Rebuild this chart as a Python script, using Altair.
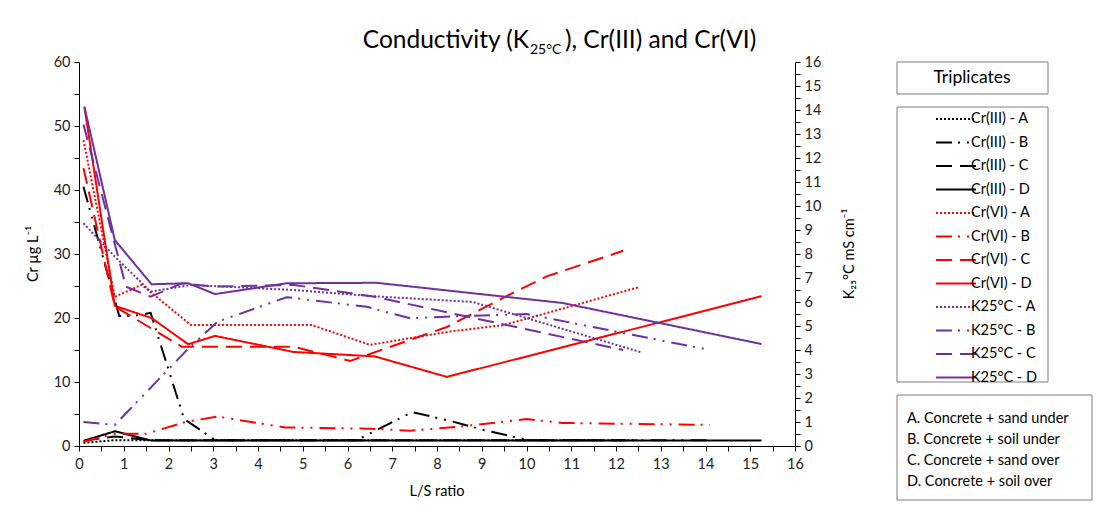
import altair as alt
import pandas as pd

FONT = "Lato"

# ---------------- data ----------------
series_names = ["Cr(III) - A", "Cr(III) - B", "Cr(III) - C", "Cr(III) - D",
                "Cr(VI) - A", "Cr(VI) - B", "Cr(VI) - C", "Cr(VI) - D",
                "K25°C - A", "K25°C - B", "K25°C - C", "K25°C - D"]

# Cr(III), µg/L (left axis)
cr3_a_x = [0.1, 0.8, 1.6, 2.5, 5.2, 6.5, 8.3, 9.5, 12.5]
cr3_a_y = [0.5, 0.9, 0.9, 0.9, 0.9, 0.9, 0.9, 0.9, 0.9]
cr3_b_x = [0.1, 0.9, 1.2, 1.6, 2.35, 3.05, 4.6, 6.2, 7.45, 8.3, 9.1, 10.05, 14.1]
cr3_b_y = [40.5, 20.3, 20.3, 20.8, 4.2, 0.9, 0.9, 0.9, 5.3, 3.9, 2.4, 0.9, 0.9]
cr3_c_x = [0.1, 0.8, 1.6, 2.3, 4.8, 6.0, 8.2, 10.45, 12.16]
cr3_c_y = [0.8, 1.5, 0.9, 0.9, 0.9, 0.9, 0.9, 0.9, 0.9]
cr3_d_x = [0.12, 0.8, 1.62, 2.44, 3.04, 4.79, 6.61, 8.22, 10.8, 15.25]
cr3_d_y = [0.85, 2.3, 0.85, 0.85, 0.85, 0.85, 0.85, 0.85, 0.85, 0.85]

# Cr(VI), µg/L (left axis)
cr6_a_x = [0.1, 0.8, 1.4, 2.5, 5.2, 6.5, 8.3, 9.5, 12.5]
cr6_a_y = [47.8, 23.3, 25.2, 18.9, 18.9, 15.8, 17.9, 18.9, 24.8]
cr6_b_x = [0.1, 0.8, 1.5, 2.4, 3.1, 4.6, 6.5, 7.4, 8.5, 10.0, 10.8, 14.1]
cr6_b_y = [0.7, 1.9, 1.9, 3.8, 4.6, 2.9, 2.7, 2.4, 3.0, 4.2, 3.6, 3.3]
cr6_c_x = [0.1, 0.8, 2.3, 4.8, 6.06, 8.22, 9.52, 10.45, 12.16]
cr6_c_y = [43.4, 21.8, 15.5, 15.5, 13.3, 18.6, 23.3, 26.5, 30.5]
cr6_d_x = [0.12, 0.8, 1.62, 2.44, 3.04, 4.79, 6.61, 8.22, 15.25]
cr6_d_y = [53.0, 21.9, 20.0, 15.9, 17.2, 14.7, 14.0, 10.8, 23.4]

# Conductivity K25°C, mS/cm (right axis)
k_a_x = [0.1, 0.8, 1.6, 2.5, 4.8, 6.5, 8.8, 12.57]
k_a_y = [9.28, 7.89, 6.43, 6.71, 6.5, 6.25, 6.0, 3.9]
k_b_x = [0.1, 0.8, 2.45, 3.1, 4.64, 6.43, 7.4, 8.2, 10.0, 14.1]
k_b_y = [1.0, 0.88, 4.07, 5.18, 6.2, 5.8, 5.32, 5.39, 5.5, 4.0]
k_c_x = [0.1, 1.05, 1.6, 2.3, 3.0, 4.8, 6.6, 12.16]
k_c_y = [13.4, 6.64, 6.22, 6.78, 6.64, 6.71, 6.22, 4.0]
k_d_x = [0.12, 0.8, 1.62, 2.44, 3.04, 4.64, 6.65, 10.8, 15.25]
k_d_y = [14.14, 8.58, 6.74, 6.78, 6.33, 6.78, 6.8, 5.96, 4.25]

series_colors = ["#000000"] * 4 + ["#FF0000"] * 4 + ["#7030A0"] * 4
dash_patterns = [[2, 2], [16, 6, 2, 7, 2, 7], [16, 8], [1, 0]] * 3

x_ticks = [i * 0.5 for i in range(33)]
cr_ticks = list(range(0, 61, 5))
k_ticks = [i * 0.5 for i in range(33)]

notes = ["A. Concrete + sand under", "B. Concrete + soil under",
         "C. Concrete + sand over", "D. Concrete + soil over"]

# ---------------- tables ----------------
def rows(name, xs, ys):
    return [{"series": name, "ls": x, "val": y, "i": k} for k, (x, y) in enumerate(zip(xs, ys))]

cr_rows = (rows(series_names[0], cr3_a_x, cr3_a_y) + rows(series_names[1], cr3_b_x, cr3_b_y)
           + rows(series_names[2], cr3_c_x, cr3_c_y) + rows(series_names[3], cr3_d_x, cr3_d_y)
           + rows(series_names[4], cr6_a_x, cr6_a_y) + rows(series_names[5], cr6_b_x, cr6_b_y)
           + rows(series_names[6], cr6_c_x, cr6_c_y) + rows(series_names[7], cr6_d_x, cr6_d_y))
k_rows = (rows(series_names[8], k_a_x, k_a_y) + rows(series_names[9], k_b_x, k_b_y)
          + rows(series_names[10], k_c_x, k_c_y) + rows(series_names[11], k_d_x, k_d_y))
cr_df = pd.DataFrame(cr_rows)
k_df = pd.DataFrame(k_rows)

color_scale = alt.Scale(domain=series_names, range=series_colors)
dash_scale = alt.Scale(domain=series_names, range=dash_patterns)

legend = alt.Legend(
    title=None, orient="none", legendX=876, legendY=46,
    symbolType="M-3,0L1,0", symbolSize=400, symbolStrokeWidth=2,
    labelFont=FONT, labelFontSize=14.5, labelColor="#000000", labelOffset={"expr": "-6"},
    labelAlign="left",
    rowPadding=5.5, padding=0, labelLimit=200,
)

x_enc = alt.X("ls:Q", scale=alt.Scale(domain=[0, 16], nice=False),
              axis=alt.Axis(title=None, values=x_ticks, labelOverlap=False, labelFlush=False,
                            labelExpr="datum.value % 1 === 0 ? format(datum.value, 'd') : ''",
                            grid=False, domainColor="#000", tickColor="#000", tickSize=5,
                            labelFont=FONT, labelFontSize=14.5, labelColor="#222", labelPadding=6))

cr_lines = alt.Chart(cr_df).mark_line(strokeWidth=2).encode(
    x=x_enc,
    y=alt.Y("val:Q", scale=alt.Scale(domain=[0, 60], nice=False),
            axis=alt.Axis(title=None, orient="left", values=cr_ticks, labelOverlap=False,
                          labelFlush=False,
                          labelExpr="datum.value % 10 === 0 ? format(datum.value, 'd') : ''",
                          grid=False, domainColor="#000", tickColor="#000", tickSize=5,
                          labelFont=FONT, labelFontSize=14.5, labelColor="#222", labelPadding=4)),
    color=alt.Color("series:N", scale=color_scale, legend=legend),
    strokeDash=alt.StrokeDash("series:N", scale=dash_scale, legend=legend),
    detail="series:N",
    order="i:Q",
)

k_lines = alt.Chart(k_df).mark_line(strokeWidth=2).encode(
    x=x_enc,
    y=alt.Y("val:Q", scale=alt.Scale(domain=[0, 16], nice=False),
            axis=alt.Axis(title=None, orient="right", values=k_ticks, labelOverlap=False,
                          labelFlush=False,
                          labelExpr="datum.value % 1 === 0 ? format(datum.value, 'd') : ''",
                          grid=False, domainColor="#000", tickColor="#000", tickSize=5,
                          labelFont=FONT, labelFontSize=14.5, labelColor="#222", labelPadding=4)),
    color=alt.Color("series:N", scale=color_scale, legend=legend),
    strokeDash=alt.StrokeDash("series:N", scale=dash_scale, legend=legend),
    detail="series:N",
    order="i:Q",
)

one = pd.DataFrame({"d": [0]})

def box(x1, x2, y1, y2):
    return alt.Chart(one).mark_rect(fill="white", stroke="#7f7f7f", strokeWidth=1).encode(
        x=alt.value(x1), x2=alt.value(x2), y=alt.value(y1), y2=alt.value(y2))

def label(text, x, y, size=14, align="center", angle=0, baseline="middle"):
    return alt.Chart(one).mark_text(text=text, font=FONT, fontSize=size, align=align,
                                    baseline=baseline, angle=angle, color="#000").encode(
        x=alt.value(x), y=alt.value(y))

boxes = [box(818, 969, 0, 32), box(818, 969, 45, 320), box(818, 1013, 333, 438)]

texts = [
    label("Triplicates", 893, 16, size=17.5),
    alt.Chart(one).mark_text(text="\n".join(notes), font=FONT, fontSize=14.5, align="left",
                             baseline="middle", lineBreak="\n", lineHeight=21, color="#000").encode(
        x=alt.value(828), y=alt.value(357)),
    label("Conductivity (K", 450, -14, size=24.5, align="right", baseline="alphabetic"),
    label("25°C", 451, -8, size=14, align="left", baseline="alphabetic"),
    label("), Cr(III) and Cr(VI)", 486, -14, size=24.5, align="left", baseline="alphabetic"),
    label("Cr µg L⁻¹", -45, 192, size=14.5, angle=270),
    label("K₂₅°C mS cm⁻¹", 771, 192, size=14.5, angle=270),
    label("L/S ratio", 358, 430, size=14.5),
]

chart = alt.layer(*boxes, cr_lines, k_lines, *texts).resolve_scale(
    y="independent"
).properties(
    width=716, height=384,
    padding={"left": 71, "top": 54, "right": 300, "bottom": 60},
    autosize=alt.AutoSizeParams(type="none"),
    background="white",
).configure_view(stroke=None)

chart.save("out.html", embed_options={"renderer": "svg", "actions": False})
